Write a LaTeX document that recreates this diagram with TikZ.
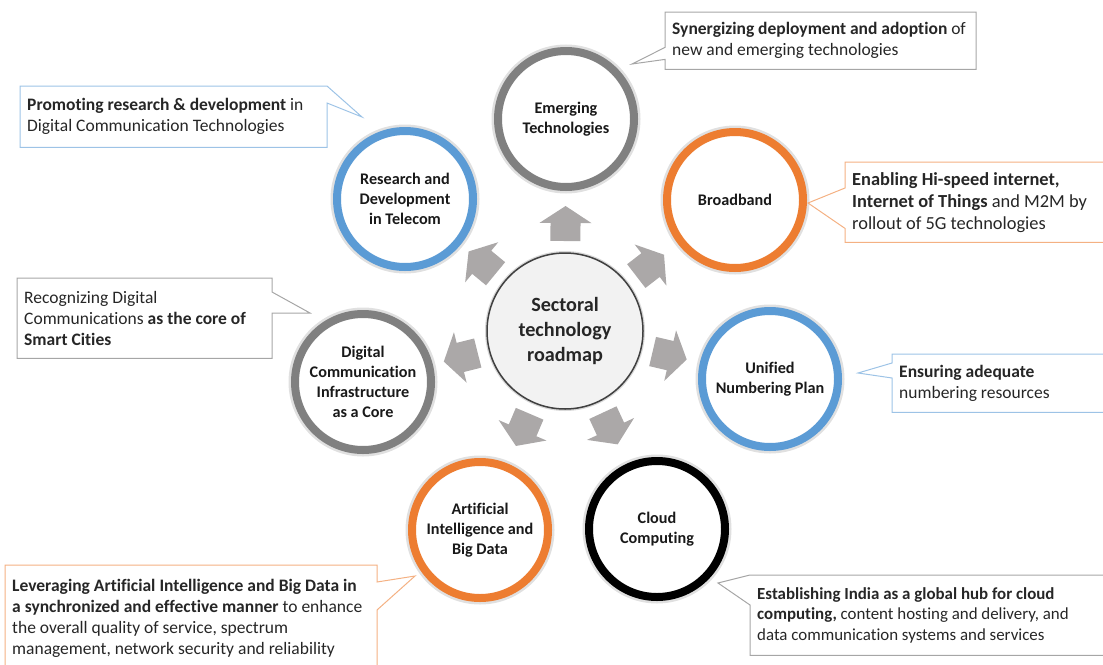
\documentclass[tikz,border=0pt]{standalone}
\usepackage{xcolor}
\usepackage{fontspec}
\setmainfont{Carlito}[Ligatures=NoCommon]
\usepackage{tikz}
\usetikzlibrary{positioning,calc}

\definecolor{ringblue}{HTML}{5B9BD5}
\definecolor{ringorange}{HTML}{ED7D31}
\definecolor{ringgray}{HTML}{808080}
\definecolor{lineblue}{HTML}{9DC3E6}
\definecolor{lineorange}{HTML}{F4B183}
\definecolor{linegray}{HTML}{A6A6A6}
\definecolor{arrowfill}{HTML}{ABA8A8}
\definecolor{hubfill}{HTML}{F2F2F2}
\definecolor{bodytext}{HTML}{262626}

\begin{document}
\begin{tikzpicture}
[x=1pt, y=-1pt,
    ring/.style={circle, draw=#1, line width=8pt, minimum size=136pt,
    inner sep=0pt, fill=white, align=center, text=black!90,
    font=\fontsize{16.2}{20}\selectfont\bfseries,
    preaction={draw=black!12, line width=13pt}},
    hub/.style={circle, draw=black!75, line width=1.5pt, minimum size=156pt,
    fill=hubfill, align=center, text=black!85,
    font=\fontsize{20.2}{25}\selectfont\bfseries,
    preaction={draw=black!15, line width=4pt}},
    callout/.style={anchor=north west, align=left, inner xsep=7pt,
    inner ysep=0pt, text=bodytext, font=\fontsize{17.5}{21}\selectfont},
    calloutline/.style={draw=#1, line width=1pt},
    blockarrow/.style={fill=arrowfill}
    ]

    \useasboundingbox (0,0) rectangle (1103,664);

    % centre and the seven rings
    \node[hub] (hub) at (565,331) {Sectoral\\technology\\roadmap};
    \node[ring=ringgray] (emg) at (566,119) {Emerging\\Technologies};
    \node[ring=ringorange] (brd) at (735,200) {Broadband};
    \node[ring=ringblue] (unp) at (770,379) {Unified\\Numbering Plan};
    \node[ring=black] (cld) at (657,529) {Cloud\\Computing};
    \node[ring=ringorange] (aib) at (480,530) {Artificial\\Intelligence and\\Big Data};
    \node[ring=ringgray] (dci) at (363,382) {Digital\\Communication\\Infrastructure\\as a Core};
    \node[ring=ringblue] (rnd) at (405,199) {Research and\\Development\\in Telecom};

    % block arrows from the centre
    \foreach \tgt in {emg,brd,unp,cld,aib,dci,rnd}{
        \path let \p1 = ($(\tgt.center)-(hub.center)$),
            \n1 = {atan2(\y1,\x1)} in \pgfextra{\xdef\arrang{\n1}};
        \begin{scope}[shift={($(hub.center)!107pt!(\tgt.center)$)}, rotate=\arrang]
            \fill[blockarrow] (-17pt,-15pt) -- (1pt,-15pt) -- (1pt,-26pt)
                -- (18pt,0pt) -- (1pt,26pt) -- (1pt,15pt) -- (-17pt,15pt) -- cycle;
        \end{scope}
    }

    % callouts
    \node[callout, minimum height=57pt] (syn) at (665,12)
        {\textbf{Synergizing deployment and adoption} of\\new and emerging technologies};
    \coordinate (synTip) at (632,64);
    \draw[calloutline=linegray] (syn.north west) -- ([xshift=311pt]syn.north west)
        -- ([xshift=311pt]syn.south west) -- (syn.south west)
        -- ([yshift=10pt]syn.south west) -- (synTip)
        -- ([yshift=22pt]syn.south west) -- cycle;

    \node[callout, minimum height=61pt] (pro) at (20,86)
        {\textbf{Promoting research \& development} in\\Digital Communication Technologies};
    \coordinate (proTip) at (362,117);
    \draw[calloutline=lineblue] (pro.north west) -- ([xshift=307pt]pro.north west)
        -- (proTip) -- ([xshift=307pt, yshift=-17pt]pro.north west)
        -- ([xshift=307pt]pro.south west) -- (pro.south west) -- cycle;

    \node[callout, minimum height=80pt, font=\fontsize{18.4}{22}\selectfont] (ena) at (845,162)
        {\textbf{Enabling Hi-speed internet,}\\\textbf{Internet of Things} and M2M by\\rollout of 5G technologies};
    \coordinate (enaTip) at (808,203);
    \draw[calloutline=lineorange] (ena.north west) -- ([xshift=280pt]ena.north west)
        -- ([xshift=280pt]ena.south west) -- (ena.south west)
        -- ([yshift=14pt]ena.south west) -- (enaTip)
        -- ([yshift=-26pt]ena.north west) -- cycle;

    \node[callout, minimum height=80pt] (rec) at (17,278)
        {Recognizing Digital\\Communications \textbf{as the core of}\\\textbf{Smart Cities}};
    \coordinate (recTip) at (310,313);
    \draw[calloutline=linegray] (rec.north west) -- ([xshift=255pt]rec.north west)
        -- ([xshift=255pt, yshift=-14pt]rec.north west) -- (recTip)
        -- ([xshift=255pt, yshift=-35pt]rec.north west)
        -- ([xshift=255pt]rec.south west) -- (rec.south west) -- cycle;

    \node[callout, minimum height=58pt] (ens) at (892,354)
        {\textbf{Ensuring adequate}\\numbering resources};
    \coordinate (ensTip) at (858,373);
    \draw[calloutline=lineblue] (ens.north west) -- ([xshift=230pt]ens.north west)
        -- ([xshift=230pt]ens.south west) -- (ens.south west)
        -- ([yshift=-24pt]ens.north west) -- (ensTip)
        -- ([yshift=-9pt]ens.north west) -- cycle;

    \node[callout, minimum height=107pt] (lev) at (5,565)
        {\textbf{Leveraging Artificial Intelligence and Big Data in}\\\textbf{a synchronized and effective manner} to enhance\\the overall quality of service, spectrum\\management, network security and reliability};
    \coordinate (levTip) at (415,576);
    \draw[calloutline=lineorange] (lev.north west) -- ([xshift=372pt]lev.north west)
        -- ([xshift=372pt, yshift=-17pt]lev.north west) -- (levTip)
        -- ([xshift=372pt, yshift=-45pt]lev.north west)
        -- ([xshift=372pt]lev.south west) -- (lev.south west) -- cycle;

    \node[callout, minimum height=80pt, font=\fontsize{16.9}{20.5}\selectfont] (est) at (750,575)
        {\textbf{Establishing India as a global hub for cloud}\\\textbf{computing,} content hosting and delivery, and\\data communication systems and services};
    \coordinate (estTip) at (718,583);
    \draw[calloutline=linegray] (est.north west) -- ([xshift=370pt]est.north west)
        -- ([xshift=370pt]est.south west) -- (est.south west)
        -- ([yshift=-30pt]est.north west) -- (estTip) -- cycle;
\end{tikzpicture}
\end{document}
